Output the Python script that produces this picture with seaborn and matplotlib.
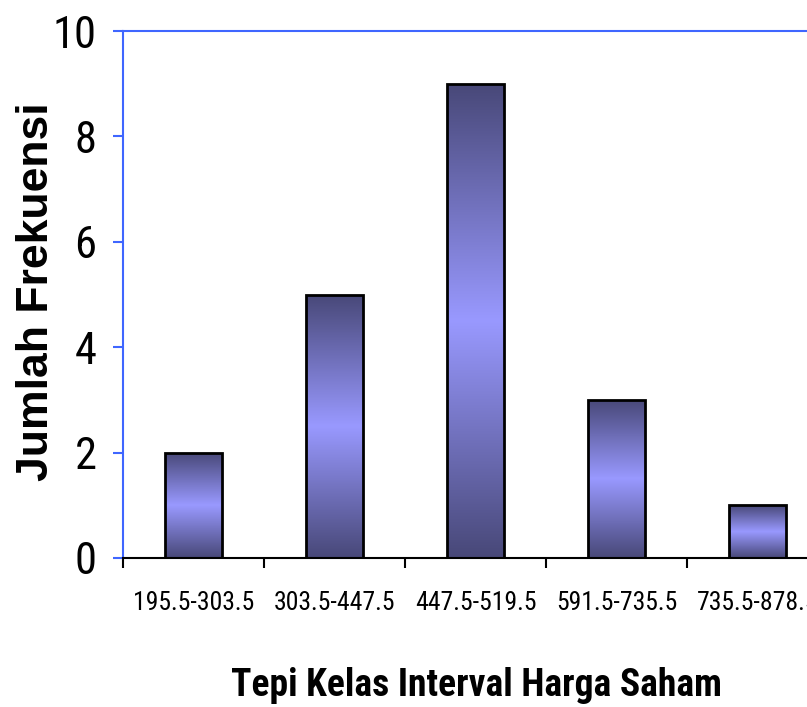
import numpy as np
import pandas as pd
import seaborn as sns
import matplotlib.pyplot as plt
from matplotlib.colors import LinearSegmentedColormap

# data
kelas = ['195.5-303.5', '303.5-447.5', '447.5-519.5', '591.5-735.5', '735.5-878.5']
frekuensi = [2, 5, 9, 3, 1]
y_ticks = [0, 2, 4, 6, 8, 10]

df = pd.DataFrame({'kelas': kelas, 'frekuensi': frekuensi})

sns.set_style('white')
narrow = ['Roboto Condensed', 'Archivo Narrow', 'Liberation Sans', 'DejaVu Sans']
plt.rcParams['font.family'] = narrow
plt.rcParams['text.color'] = 'black'

BLUE = '#3f66ff'
DARK = '#484878'
LIGHT = '#9999ff'

fig = plt.figure(figsize=(8.07, 7.07), dpi=100)
# axes run a bit past the right edge of the figure, as in the original
ax = fig.add_axes([123 / 807, 149 / 707, 705 / 807, 527 / 707])

sns.barplot(data=df, x='kelas', y='frekuensi', ax=ax, width=0.4,
            color=LIGHT, edgecolor='black', linewidth=2, saturation=1)

# vertical gradient fill: dark - light - dark
cmap = LinearSegmentedColormap.from_list('bar', [DARK, LIGHT, DARK])
grad = np.linspace(0, 1, 256).reshape(-1, 1)
for p in ax.patches:
    x0, y0 = p.get_x(), p.get_y()
    w, h = p.get_width(), p.get_height()
    im = ax.imshow(grad, cmap=cmap, aspect='auto', origin='upper',
                   extent=[x0, x0 + w, y0, y0 + h], zorder=p.get_zorder() - 0.1,
                   interpolation='bilinear')
    im.set_clip_path(p)
    p.set_facecolor('none')

ax.set_xlim(-0.5, 4.5)
ax.set_ylim(0, 10)
ax.set_yticks(y_ticks)
ax.set_xlabel('')
ax.set_ylabel('')

# x ticks: marks at class boundaries, labels at bar centres
ax.set_xticks(np.arange(-0.5, 5, 1), minor=True)
ax.tick_params(axis='x', which='major', length=0, pad=24, labelsize=18.5,
               labelcolor='black')
ax.tick_params(axis='x', which='minor', direction='out', length=7, width=1.5,
               color='black', bottom=True)
ax.tick_params(axis='y', direction='out', length=7, width=1.5, color=BLUE,
               labelcolor='black', pad=12, labelsize=32, left=True)

for side in ['left', 'top']:
    ax.spines[side].set_color(BLUE)
    ax.spines[side].set_linewidth(1.5)
ax.spines['bottom'].set_color('black')
ax.spines['bottom'].set_linewidth(1.5)
ax.spines['right'].set_visible(False)

fig.text(37 / 807, 1 - 292 / 707, 'Jumlah Frekuensi', rotation=90,
         ha='center', va='center', fontsize=32, fontweight='bold',
         family=['Liberation Sans', 'DejaVu Sans'])
fig.text(476 / 807, 11 / 707, 'Tepi Kelas Interval Harga Saham',
         ha='center', va='baseline', fontsize=27, fontweight='bold',
         family=narrow)

plt.savefig('out.png', dpi=100)
